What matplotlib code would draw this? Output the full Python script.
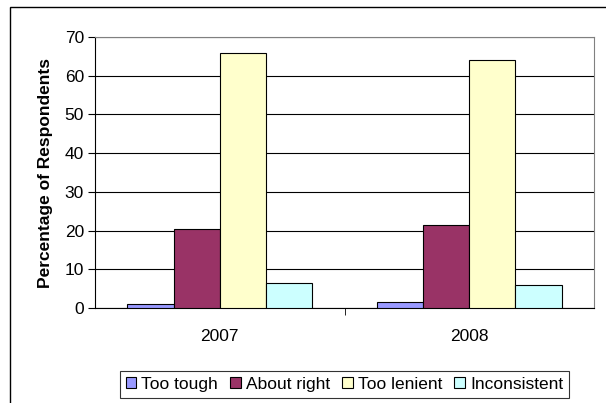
import matplotlib.pyplot as plt
import numpy as np
from matplotlib.patches import Rectangle

plt.rcParams['font.family'] = ['Liberation Sans', 'DejaVu Sans']

years = ['2007', '2008']
series = ['Too tough', 'About right', 'Too lenient', 'Inconsistent']
too_tough = [1.0, 1.5]
about_right = [20.4, 21.4]
too_lenient = [65.8, 64.0]
inconsistent = [6.4, 6.0]
colors = ['#9999FF', '#993366', '#FFFFCC', '#CCFFFF']

values = [too_tough, about_right, too_lenient, inconsistent]

fig = plt.figure(figsize=(6.06, 4.03), dpi=100)
# outer chart frame (left and top visible)
fig.patches.append(Rectangle((10/606, -0.05), 1.1, (403-7)/403 + 0.05,
                             transform=fig.transFigure, fill=False,
                             edgecolor='black', linewidth=1.0))

ax = fig.add_axes([95/606, 1 - 308/403, (594-95)/606, (308-37)/403])

x = np.arange(len(years))
w = 0.185
for i, (name, vals) in enumerate(zip(series, values)):
    ax.bar(x + (i - 1.5) * w, vals, w, color=colors[i], edgecolor='black',
           linewidth=0.8, label=name, zorder=3)

ax.set_xlim(-0.5, 1.5)
ax.set_ylim(0, 70)
ax.set_yticks(range(0, 71, 10))
ax.yaxis.grid(True, color='black', linewidth=0.8, zorder=0)
ax.set_xticks(x)
ax.set_xticklabels(years, fontsize=12.5)
ax.set_xticks([0.5], minor=True)
ax.tick_params(axis='x', which='major', length=0, pad=15)
ax.tick_params(axis='x', which='minor', length=5, direction='out')
ax.tick_params(axis='y', length=5, direction='out', labelsize=12.5, pad=3)
ax.set_ylabel('Percentage of Respondents', fontsize=12.5, fontweight='bold', labelpad=8)

for s in ['top', 'right']:
    ax.spines[s].set_color('#808080')
ax.spines['left'].set_color('black')
ax.spines['bottom'].set_color('black')

leg = ax.legend(loc='upper center', bbox_to_anchor=(0.5, -0.2), ncol=4,
                frameon=True, fancybox=False, edgecolor='black', fontsize=12.5,
                handlelength=0.6, handleheight=0.6, handletextpad=0.3,
                columnspacing=0.7, borderpad=0.35)
leg.get_frame().set_linewidth(0.8)

fig.savefig('out.png', dpi=100)
